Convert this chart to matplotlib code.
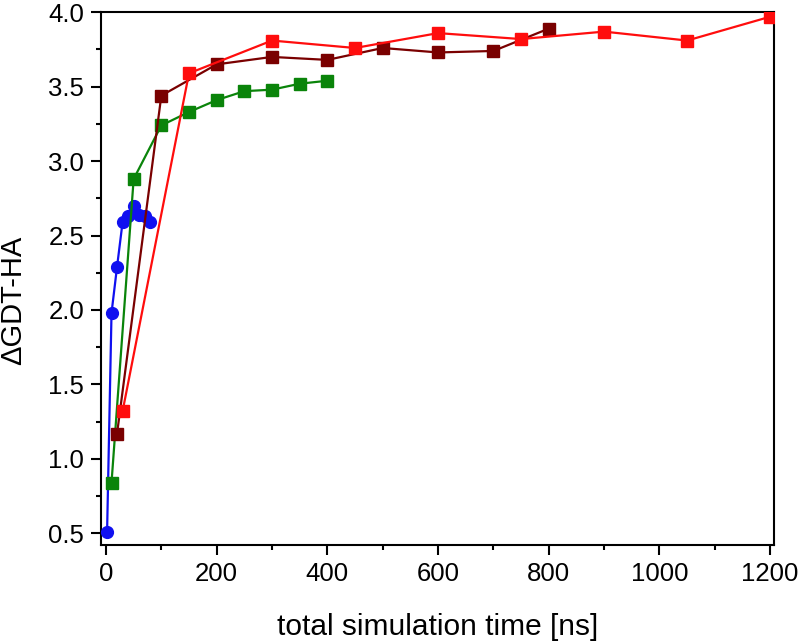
import matplotlib
matplotlib.use("Agg")
import matplotlib.pyplot as plt
from matplotlib.ticker import MultipleLocator

plt.rcParams["font.family"] = ["Liberation Sans", "DejaVu Sans"]

# Series (x in ns, y in delta GDT-HA)
blue_x = [2, 10, 20, 30, 40, 50, 60, 70, 80]
blue_y = [0.51, 1.98, 2.29, 2.59, 2.63, 2.70, 2.64, 2.63, 2.59]

green_x = [10, 50, 100, 150, 200, 250, 300, 350, 400]
green_y = [0.84, 2.88, 3.24, 3.33, 3.41, 3.47, 3.48, 3.52, 3.54]

darkred_x = [20, 100, 200, 300, 400, 500, 600, 700, 800]
darkred_y = [1.17, 3.44, 3.65, 3.70, 3.68, 3.76, 3.73, 3.74, 3.89]

red_x = [30, 150, 300, 450, 600, 750, 900, 1050, 1200]
red_y = [1.32, 3.59, 3.81, 3.76, 3.86, 3.82, 3.87, 3.81, 3.97]

fig = plt.figure(figsize=(8, 6.42), dpi=100)
ax = fig.add_axes([0.12625, 0.1511, 0.84125, 0.8298])

ax.plot(blue_x, blue_y, "-o", color="#1010f0", lw=1.6, ms=8.5, zorder=3)
ax.plot(green_x, green_y, "-s", color="#0a840a", lw=1.6, ms=8.5, zorder=4)
ax.plot(darkred_x, darkred_y, "-s", color="#7a0000", lw=1.6, ms=8.5, zorder=5)
ax.plot(red_x, red_y, "-s", color="#ff0d0d", lw=1.6, ms=8.5, zorder=6)

ax.set_xlim(-9, 1207)
ax.set_ylim(0.4214, 4.0)
ax.xaxis.set_major_locator(MultipleLocator(200))
ax.xaxis.set_minor_locator(MultipleLocator(100))
ax.yaxis.set_major_locator(MultipleLocator(0.5))
ax.yaxis.set_minor_locator(MultipleLocator(0.25))
ax.set_yticks([0.5, 1.0, 1.5, 2.0, 2.5, 3.0, 3.5, 4.0])

for s in ax.spines.values():
    s.set_linewidth(1.5)
ax.tick_params(which="major", direction="out", length=7.2, width=1.5,
               labelsize=18.5, pad=5)
ax.tick_params(which="minor", direction="out", length=3.6, width=1.5)

ax.set_xlabel("total simulation time [ns]", fontsize=21.5, va="baseline")
ax.xaxis.set_label_coords(0.5, -0.169)
ax.set_ylabel("\u0394GDT-HA", fontsize=21, va="baseline")
ax.yaxis.set_label_coords(-0.119, 0.46)

fig.savefig("out.png", dpi=100)
